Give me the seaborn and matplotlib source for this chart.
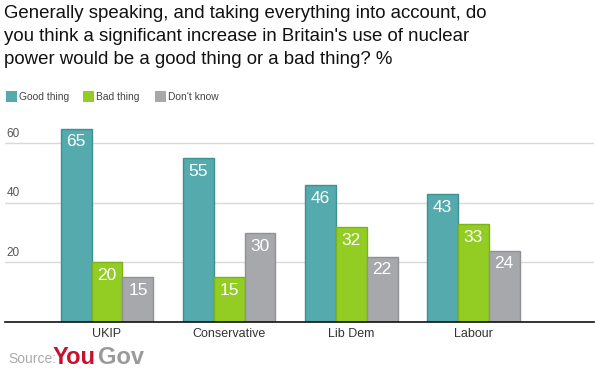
import matplotlib
matplotlib.use("Agg")
import matplotlib.pyplot as plt
import seaborn as sns
import pandas as pd

parties = ["UKIP", "Conservative", "Lib Dem", "Labour"]
series = ["Good thing", "Bad thing", "Don't know"]
good = [65, 55, 46, 43]
bad = [20, 15, 32, 33]
dont_know = [15, 30, 22, 24]
yticks = [20, 40, 60]

colors = {"Good thing": "#54aaad", "Bad thing": "#93cd23", "Don't know": "#a7a8ab"}
edges = {"Good thing": "#3f9093", "Bad thing": "#7cb31b", "Don't know": "#909194"}

rows = []
for s, vals in zip(series, [good, bad, dont_know]):
    for p, v in zip(parties, vals):
        rows.append({"party": p, "series": s, "value": v})
df = pd.DataFrame(rows)

sns.set_theme(style="white")
plt.rcParams['font.family'] = ['Liberation Sans', 'DejaVu Sans']

fig = plt.figure(figsize=(5.96, 3.84), dpi=100)
ax = fig.add_axes([5/596, 62/384, 589/596, 0.7038 - 62/384])

sns.barplot(data=df, x="party", y="value", hue="series", order=parties,
            hue_order=series, palette=colors, width=0.76, ax=ax,
            legend=False, saturation=1)

for cont, s in zip(ax.containers, series):
    for bar in cont:
        bar.set_edgecolor(edges[s])
        bar.set_linewidth(1.0)
    ax.bar_label(cont, labels=[str(int(b.get_height())) for b in cont],
                 label_type="edge", padding=-15, color="white", fontsize=12.5)

ax.set_xlim(-0.836, 3.99)
ax.set_ylim(0, 70)
ax.set_yticks(yticks)
ax.yaxis.grid(True, color="#d9d9d9", linewidth=1)
ax.set_axisbelow(True)
ax.tick_params(axis="y", left=False, labelleft=False)
for t in yticks:
    ax.text(0.003, t + 1.3, str(t), transform=ax.get_yaxis_transform(),
            ha="left", va="bottom", fontsize=8.5, color="#555555")
ax.tick_params(axis="x", bottom=False, length=0, labelsize=9,
               labelcolor="#333333", pad=4)
ax.set_xlabel("")
ax.set_ylabel("")
for side in ["top", "right", "left"]:
    ax.spines[side].set_visible(False)
ax.spines["bottom"].set_color("#111111")
ax.spines["bottom"].set_linewidth(1.2)

fig.text(4/596, 1 - 5/384,
         "Generally speaking, and taking everything into account, do\n"
         "you think a significant increase in Britain's use of nuclear\n"
         "power would be a good thing or a bad thing? %",
         ha="left", va="top", fontsize=13.4, color="#111111", linespacing=1.45)

# legend
leg_x = [6, 83, 155]
for x, s in zip(leg_x, series):
    fig.patches.append(plt.Rectangle((x/596, 1 - 102/384), 11/596, 11/384,
                                     transform=fig.transFigure, facecolor=colors[s],
                                     edgecolor="none"))
    fig.text((x + 13)/596, 1 - 96.5/384, s, ha="left", va="center",
             fontsize=7.4, color="#444444")

fig.text(8/596, 1 - 359/384, "Source:", ha="left", va="center",
         fontsize=10, color="#aaaaaa")
fig.text(53/596, 1 - 358/384, "You", ha="left", va="center",
         fontsize=17, fontweight="bold", color="#c8102e")
fig.text(98/596, 1 - 358/384, "Gov", ha="left", va="center",
         fontsize=17, fontweight="bold", color="#9a9a9a")

fig.savefig("out.png", dpi=100)
